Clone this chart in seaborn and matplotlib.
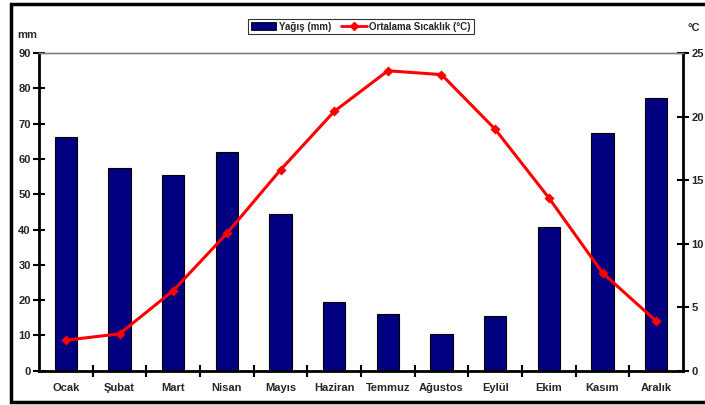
import numpy as np
import pandas as pd
import matplotlib
matplotlib.use("Agg")
import matplotlib.pyplot as plt
from matplotlib.patches import Patch
from matplotlib.lines import Line2D
import seaborn as sns

months = ["Ocak", "Şubat", "Mart", "Nisan", "Mayıs", "Haziran",
          "Temmuz", "Ağustos", "Eylül", "Ekim", "Kasım", "Aralık"]
rain_mm = [66.3, 57.3, 55.3, 61.9, 44.4, 19.6, 16.0, 10.5, 15.6, 40.7, 67.3, 77.2]
temp_c = [2.4, 2.9, 6.3, 10.8, 15.8, 20.4, 23.6, 23.3, 19.0, 13.6, 7.7, 3.9]
left_ticks = list(range(0, 91, 10))
right_ticks = list(range(0, 26, 5))

df = pd.DataFrame({"ay": months, "yagis": rain_mm, "sicaklik": temp_c})

sns.set_theme(style="white")
plt.rcParams["font.family"] = ["Liberation Sans", "DejaVu Sans"]
plt.rcParams["font.weight"] = "bold"

fig = plt.figure(figsize=(7.05, 4.05), dpi=100)
ax = fig.add_axes([39 / 705, 34.3 / 405, 644 / 705, 317.7 / 405])

sns.barplot(data=df, x="ay", y="yagis", color="#000080", saturation=1,
            width=0.41, edgecolor="black", linewidth=0.8, ax=ax)
ax.set_ylim(0, 90)
ax.set_xlim(-0.5, len(months) - 0.5)
ax.set_yticks(left_ticks)
ax.set_xlabel("")
ax.set_ylabel("")

ax2 = ax.twinx()
sns.pointplot(data=df, x="ay", y="sicaklik", color="#ff0000", markers="D",
              markersize=3.5, linewidth=2.2, ax=ax2)
ax2.set_ylim(0, 25)
ax2.set_xlim(-0.5, len(months) - 0.5)
ax2.set_yticks(right_ticks)
ax2.set_xlabel("")
ax2.set_ylabel("")

for a in (ax, ax2):
    for s in ("left", "right", "bottom"):
        a.spines[s].set_color("black")
        a.spines[s].set_linewidth(2)
    a.spines["top"].set_color("#808080")
    a.spines["top"].set_linewidth(1)
ax.spines["right"].set_visible(False)
ax2.spines["left"].set_visible(False)
ax2.spines["bottom"].set_visible(False)

ax.tick_params(axis="y", which="major", direction="inout", length=8, width=1.5,
               labelsize=8, pad=2, color="black", left=True)
ax2.tick_params(axis="y", which="major", direction="inout", length=8, width=1.5,
                labelsize=8, pad=2, color="black", right=True)
ax.set_xticks(np.arange(len(months)))
ax.set_xticklabels(months)
ax.set_xticks(np.arange(0.5, len(months) - 1, 1.0), minor=True)
ax.tick_params(axis="x", which="major", length=0, labelsize=8, pad=9)
ax.tick_params(axis="x", which="minor", direction="inout", length=8, width=1.5,
               color="black", bottom=True)
for lbl in ax.get_xticklabels() + ax.get_yticklabels() + ax2.get_yticklabels():
    lbl.set_fontweight("bold")
ax2.tick_params(axis="x", which="both", bottom=False, labelbottom=False)

fig.text(17 / 705, 1 - 35 / 405, "mm", fontsize=8, fontweight="bold",
         ha="left", va="center")
fig.text(688 / 705, 1 - 28 / 405, "°C", fontsize=8, fontweight="bold",
         ha="left", va="center")

handles = [Patch(facecolor="#000080", edgecolor="black", linewidth=0.6),
           Line2D([], [], color="#ff0000", lw=2, marker="D", markersize=4)]
leg = fig.legend(handles, ["Yağış (mm)", "Ortalama Sıcaklık (°C)"],
                 loc="center", bbox_to_anchor=(361 / 705, 1 - 26.5 / 405),
                 ncol=2, fontsize=7, frameon=True, fancybox=False,
                 handlelength=2.6, handleheight=0.9, columnspacing=1.0,
                 handletextpad=0.3, borderpad=0.3, borderaxespad=0)
leg.get_frame().set_edgecolor("black")
leg.get_frame().set_linewidth(0.8)
for t in leg.get_texts():
    t.set_fontweight("bold")

# outer chart frame: top, left and bottom edges (the right edge is off-canvas)
x0, y0, y1 = 10.5 / 705, 1 - 402 / 405, 1 - 3.5 / 405
frame = Line2D([1.0, x0, x0, 1.0], [y1, y1, y0, y0], transform=fig.transFigure,
               color="black", linewidth=2.5, solid_joinstyle="miter")
fig.lines.append(frame)

fig.savefig("out.png", dpi=100)
